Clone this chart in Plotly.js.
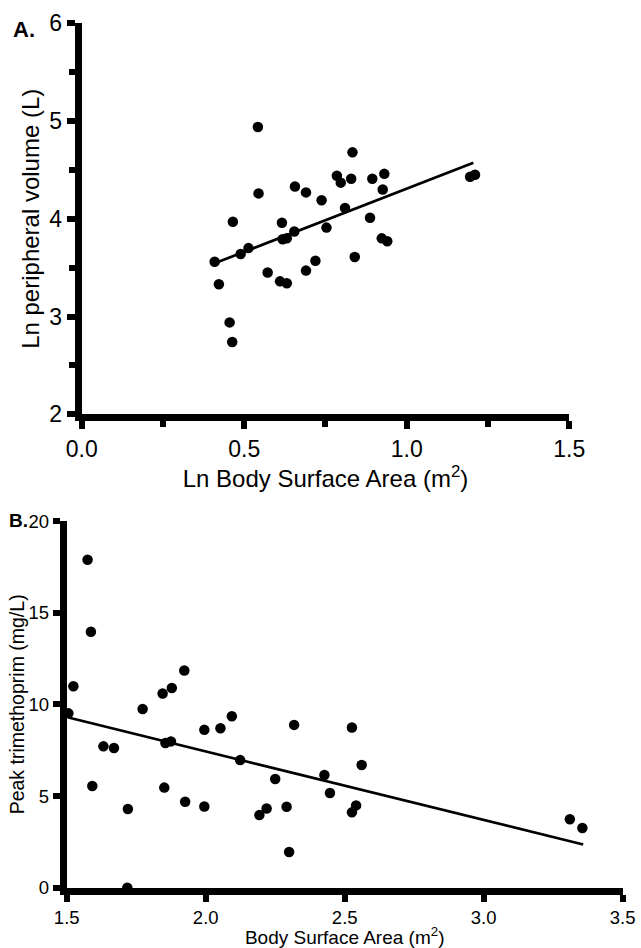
<!DOCTYPE html>
<html>
<head>
<meta charset="utf-8">
<script src="https://cdn.plot.ly/plotly-3.0.1.min.js"></script>
<style>html,body{margin:0;padding:0;background:#fff;}#chart{width:641px;height:948px;}</style>
</head>
<body>
<div id="chart"></div>
<script>
// Panel A: Ln body surface area vs Ln peripheral volume
const lnBSA = [0.542,0.833,0.785,0.797,0.829,0.894,0.931,0.926,1.195,1.210,0.656,0.690,0.738,0.544,0.810,0.887,0.465,0.616,0.654,0.753,0.618,0.631,0.513,0.489,0.409,0.923,0.940,0.840,0.719,0.690,0.572,0.422,0.610,0.631,0.455,0.463];
const lnVol = [4.94,4.68,4.44,4.37,4.41,4.41,4.46,4.30,4.43,4.45,4.33,4.27,4.19,4.26,4.11,4.01,3.97,3.96,3.87,3.91,3.79,3.80,3.70,3.64,3.56,3.80,3.77,3.61,3.57,3.47,3.45,3.33,3.36,3.34,2.94,2.74];
const fitAX = [0.409, 1.205];
const fitAY = [3.545, 4.574];

// Panel B: body surface area vs peak trimethoprim
const bsa = [1.506,1.524,1.575,1.587,1.592,1.632,1.670,1.718,1.720,1.773,1.845,1.851,1.855,1.875,1.878,1.923,1.926,1.995,1.995,2.053,2.094,2.124,2.193,2.219,2.250,2.291,2.300,2.318,2.427,2.447,2.526,2.526,2.541,2.561,3.310,3.355];
const peakTMP = [9.51,10.99,17.89,13.96,5.55,7.71,7.62,0.0,4.29,9.75,10.59,5.46,7.89,7.98,10.89,11.85,4.69,4.43,8.61,8.70,9.35,6.96,3.96,4.32,5.93,4.42,1.95,8.88,6.15,5.17,8.74,4.11,4.49,6.69,3.73,3.26];
const fitBX = [1.506, 3.358];
const fitBY = [9.28, 2.36];

const FONT = 'Liberation Sans, Arial, sans-serif';
const mk = {color:'#000', size:10.5};
const traces = [
  {x:lnBSA, y:lnVol, type:'scatter', mode:'markers', marker:mk, xaxis:'x', yaxis:'y', cliponaxis:false},
  {x:fitAX, y:fitAY, type:'scatter', mode:'lines', line:{color:'#000', width:2.7}, xaxis:'x', yaxis:'y'},
  {x:bsa, y:peakTMP, type:'scatter', mode:'markers', marker:mk, xaxis:'x2', yaxis:'y2', cliponaxis:false},
  {x:fitBX, y:fitBY, type:'scatter', mode:'lines', line:{color:'#000', width:2.7}, xaxis:'x2', yaxis:'y2'}
];

const LW = 7, TW = 5.5;
const layout = {
  width:641, height:948,
  margin:{l:0, r:0, t:0, b:0},
  paper_bgcolor:'#fff', plot_bgcolor:'rgba(0,0,0,0)',
  showlegend:false,
  font:{family:FONT, color:'#000'},
  xaxis: {domain:[0.1275,0.8881], range:[0,1.5], anchor:'y',
    showgrid:false, zeroline:false, showline:true, linecolor:'#000', linewidth:LW,
    ticks:'outside', ticklen:8, tickwidth:TW, tickcolor:'#000',
    tick0:0, dtick:0.5, tickformat:'.1f', tickfont:{size:23, family:FONT},
    minor:{ticks:'outside', tick0:0, dtick:0.25, ticklen:6, tickwidth:TW, tickcolor:'#000', showgrid:false},
    title:{text:'Ln Body Surface Area (m<sup>2</sup>)', font:{size:24, family:FONT}, standoff:6}},
  yaxis: {domain:[0.563,0.9754], range:[2,6], anchor:'x',
    showgrid:false, zeroline:false, showline:true, linecolor:'#000', linewidth:LW,
    ticks:'outside', ticklen:8, tickwidth:TW, tickcolor:'#000',
    tick0:2, dtick:1, tickfont:{size:23, family:FONT},
    minor:{ticks:'outside', tick0:2, dtick:0.5, ticklen:6, tickwidth:TW, tickcolor:'#000', showgrid:false},
    title:{text:'Ln peripheral volume (L)', font:{size:24, family:FONT}, standoff:5}},
  xaxis2: {domain:[0.1041,0.9714], range:[1.5,3.5], anchor:'y2',
    showgrid:false, zeroline:false, showline:true, linecolor:'#000', linewidth:LW,
    ticks:'outside', ticklen:7, tickwidth:TW, tickcolor:'#000',
    tick0:1.5, dtick:0.5, tickformat:'.1f', tickfont:{size:18.5, family:FONT},
    title:{text:'Body Surface Area (m<sup>2</sup>)', font:{size:19, family:FONT}, standoff:0}},
  yaxis2: {domain:[0.0636,0.4504], range:[0,20], anchor:'x2',
    showgrid:false, zeroline:false, showline:true, linecolor:'#000', linewidth:LW,
    ticks:'outside', ticklen:7, tickwidth:TW, tickcolor:'#000',
    tick0:0, dtick:5, tickfont:{size:18.5, family:FONT},
    title:{text:'Peak trimethoprim (mg/L)', font:{size:19.5, family:FONT}, standoff:1}},
  annotations:[
    {text:'<b>A.</b>', xref:'paper', yref:'paper', x:0.017, y:0.9684, xanchor:'left', yanchor:'middle', showarrow:false, font:{size:22, family:FONT}},
    {text:'<b>B.</b>', xref:'paper', yref:'paper', x:0.011, y:0.451, xanchor:'left', yanchor:'middle', showarrow:false, font:{size:19, family:FONT}}
  ]
};

Plotly.newPlot('chart', traces, layout, {displayModeBar:false});
</script>
</body>
</html>
